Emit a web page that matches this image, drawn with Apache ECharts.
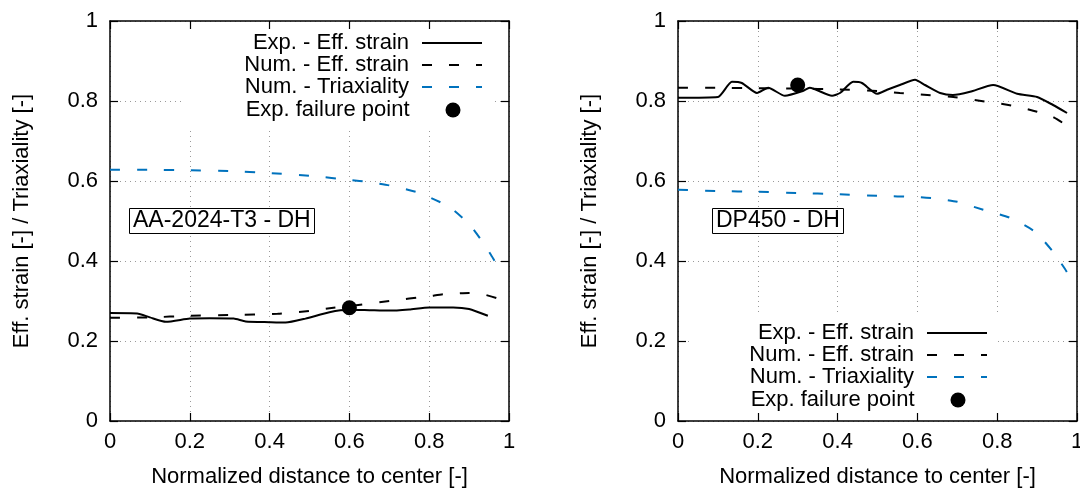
<!DOCTYPE html>
<html>
<head>
<meta charset="utf-8">
<script src="https://cdn.jsdelivr.net/npm/echarts@6/dist/echarts.min.js"></script>
<style>
html,body{margin:0;padding:0;background:#fff;overflow:hidden;}
#chart{width:1080px;height:488px;}
</style>
</head>
<body>
<div id="chart"></div>
<script>
// ---------- data ----------
const xTickValues = [0, 0.2, 0.4, 0.6, 0.8, 1];
const yTickValues = [0, 0.2, 0.4, 0.6, 0.8, 1];
const panelTitles = ['AA-2024-T3 - DH', 'DP450 - DH'];
const seriesNames = ['Exp. - Eff. strain', 'Num. - Eff. strain', 'Num. - Triaxiality', 'Exp. failure point'];
const xAxisTitle = 'Normalized distance to center [-]';
const yAxisTitle = 'Eff. strain [-] / Triaxiality [-]';

// Left panel: AA-2024-T3
const aaExpStrain = [[0,0.270],[0.068,0.269],[0.10,0.259],[0.14,0.248],[0.20,0.256],[0.25,0.257],[0.31,0.256],[0.34,0.249],[0.40,0.247],[0.44,0.246],[0.49,0.256],[0.55,0.272],[0.60,0.278],[0.65,0.277],[0.70,0.276],[0.75,0.279],[0.80,0.284],[0.86,0.284],[0.90,0.280],[0.947,0.263]];
const aaNumStrain = [[0,0.258],[0.10,0.259],[0.20,0.263],[0.30,0.265],[0.42,0.268],[0.50,0.275],[0.56,0.283],[0.60,0.287],[0.70,0.300],[0.80,0.312],[0.835,0.317],[0.90,0.320],[0.93,0.318],[0.97,0.307],[0.985,0.300]];
const aaNumTriax = [[0,0.628],[0.10,0.628],[0.20,0.627],[0.30,0.625],[0.40,0.620],[0.50,0.613],[0.60,0.603],[0.65,0.597],[0.70,0.589],[0.77,0.572],[0.832,0.545],[0.86,0.528],[0.89,0.502],[0.91,0.480],[0.932,0.450],[0.955,0.415],[0.977,0.378]];
const aaFailure = [[0.60,0.283]];

// Right panel: DP450
const dpExpStrain = [[0,0.808],[0.10,0.810],[0.135,0.848],[0.16,0.845],[0.198,0.820],[0.226,0.833],[0.268,0.813],[0.313,0.825],[0.33,0.833],[0.386,0.813],[0.406,0.820],[0.439,0.848],[0.461,0.845],[0.499,0.818],[0.524,0.828],[0.556,0.840],[0.594,0.853],[0.619,0.840],[0.657,0.820],[0.689,0.815],[0.732,0.823],[0.79,0.840],[0.85,0.818],[0.90,0.810],[0.94,0.790],[0.975,0.770]];
const dpNumStrain = [[0,0.833],[0.10,0.833],[0.20,0.832],[0.30,0.831],[0.40,0.829],[0.50,0.825],[0.556,0.820],[0.60,0.817],[0.69,0.810],[0.775,0.798],[0.84,0.788],[0.90,0.773],[0.94,0.760],[0.965,0.745],[0.995,0.732]];
const dpNumTriax = [[0,0.578],[0.10,0.575],[0.20,0.573],[0.30,0.570],[0.40,0.567],[0.50,0.563],[0.60,0.560],[0.64,0.557],[0.70,0.548],[0.765,0.528],[0.832,0.508],[0.895,0.473],[0.94,0.423],[0.97,0.380],[0.985,0.355],[1.0,0.340]];
const dpFailure = [[0.30,0.840]];

// ---------- styling ----------
const FONT = "'Liberation Sans', Arial, Helvetica, sans-serif";
const BLUE = '#0072bd';
const DASH = [10, 17];
const grids = [
  {left: 110, top: 21, width: 399, height: 400, containLabel: false, outerBoundsMode: 'none'},
  {left: 678, top: 21, width: 399, height: 400, containLabel: false, outerBoundsMode: 'none'}
];

const xAxes = [], yAxes = [];
grids.forEach((g, gi) => {
  xAxes.push({
    type: 'value', gridIndex: gi, min: 0, max: 1, interval: 0.2, position: 'bottom',
    name: xAxisTitle, nameLocation: 'middle', nameGap: 45,
    nameTextStyle: {fontFamily: FONT, fontSize: 22, color: '#000'},
    axisLine: {show: true, onZero: false, lineStyle: {color: '#000', width: 1.5}},
    axisTick: {show: true, inside: true, length: 8, lineStyle: {color: '#000', width: 1.2}},
    axisLabel: {show: true, margin: 10, fontFamily: FONT, fontSize: 22, color: '#000'},
    splitLine: {show: true, lineStyle: {color: '#9a9a9a', width: 1, type: [1, 4]}}
  });
  xAxes.push({
    type: 'value', gridIndex: gi, min: 0, max: 1, interval: 0.2, position: 'top',
    axisLine: {show: true, onZero: false, lineStyle: {color: '#000', width: 1.5}},
    axisTick: {show: true, inside: true, length: 8, lineStyle: {color: '#000', width: 1.2}},
    axisLabel: {show: false}, splitLine: {show: false}
  });
  yAxes.push({
    type: 'value', gridIndex: gi, min: 0, max: 1, interval: 0.2, position: 'left',
    name: yAxisTitle, nameLocation: 'middle', nameGap: 77, nameRotate: 90,
    nameTextStyle: {fontFamily: FONT, fontSize: 22, color: '#000'},
    axisLine: {show: true, onZero: false, lineStyle: {color: '#000', width: 1.5}},
    axisTick: {show: true, inside: true, length: 8, lineStyle: {color: '#000', width: 1.2}},
    axisLabel: {show: true, margin: 12, fontFamily: FONT, fontSize: 22, color: '#000'},
    splitLine: {show: true, lineStyle: {color: '#9a9a9a', width: 1, type: [1, 4]}}
  });
  yAxes.push({
    type: 'value', gridIndex: gi, min: 0, max: 1, interval: 0.2, position: 'right',
    axisLine: {show: true, onZero: false, lineStyle: {color: '#000', width: 1.5}},
    axisTick: {show: true, inside: true, length: 8, lineStyle: {color: '#000', width: 1.2}},
    axisLabel: {show: false}, splitLine: {show: false}
  });
});

function lineSeries(name, data, gi, color, dash) {
  return {
    type: 'line', name: name, data: data,
    xAxisIndex: gi * 2, yAxisIndex: gi * 2,
    symbol: 'none', showSymbol: false, smooth: 0.2, z: 3,
    lineStyle: {color: color, width: 2, type: dash || 'solid'},
    itemStyle: {color: color},
    emphasis: {disabled: true}, animation: false
  };
}
function dotSeries(name, data, gi) {
  return {
    type: 'scatter', name: name, data: data,
    xAxisIndex: gi * 2, yAxisIndex: gi * 2,
    symbol: 'circle', symbolSize: 15, z: 4,
    itemStyle: {color: '#000', opacity: 1}, emphasis: {disabled: true}, animation: false
  };
}

const series = [
  lineSeries(seriesNames[0], aaExpStrain, 0, '#000'),
  lineSeries(seriesNames[1], aaNumStrain, 0, '#000', DASH),
  lineSeries(seriesNames[2], aaNumTriax, 0, BLUE, DASH),
  dotSeries(seriesNames[3], aaFailure, 0),
  lineSeries(seriesNames[0], dpExpStrain, 1, '#000'),
  lineSeries(seriesNames[1], dpNumStrain, 1, '#000', DASH),
  lineSeries(seriesNames[2], dpNumTriax, 1, BLUE, DASH),
  dotSeries(seriesNames[3], dpFailure, 1)
];

// one legend per entry so the keys line up on the right like the original
const legendSpots = [
  {lineRight: 483, dotCenter: 453, centers: [43, 65, 87, 110]},
  {lineRight: 988, dotCenter: 958, centers: [333, 355, 377, 400]}
];
const legends = [];
legendSpots.forEach(spot => {
  seriesNames.forEach((nm, i) => {
    const isDot = i === 3;
    legends.push({
      data: [nm], orient: 'vertical', align: 'right',
      right: isDot ? 1080 - (spot.dotCenter + 7.5) : 1080 - spot.lineRight,
      top: spot.centers[i] - 11,
      padding: 0, itemWidth: isDot ? 15 : 60, itemHeight: isDot ? 15 : 14, itemGap: 0,
      selectedMode: false, z: 5,
      itemStyle: isDot ? {color: '#000', opacity: 1} : {opacity: 0},
      textStyle: {fontFamily: FONT, fontSize: 22, color: '#000', lineHeight: 22, padding: [0, isDot ? 31 : 8, 0, 0]}
    });
  });
});

const titles = [
  {text: panelTitles[0], left: 129, top: 208},
  {text: panelTitles[1], left: 712, top: 208}
].map(t => Object.assign(t, {
  borderColor: '#000', borderWidth: 1, padding: [1, 4], backgroundColor: '#fff',
  textStyle: {fontFamily: FONT, fontSize: 23, fontWeight: 'normal', color: '#000', lineHeight: 24}
}));

const chart = echarts.init(document.getElementById('chart'), null, {renderer: 'canvas'});
chart.setOption({
  animation: false,
  backgroundColor: '#fff',
  grid: grids,
  xAxis: xAxes,
  yAxis: yAxes,
  title: titles,
  legend: legends,
  graphic: [
    {type: 'rect', z: 1, silent: true, shape: {x: 182, y: 30, width: 313, height: 100}, style: {fill: '#fff'}},
    {type: 'rect', z: 1, silent: true, shape: {x: 690, y: 316, width: 308, height: 96}, style: {fill: '#fff'}}
  ],
  series: series
});
</script>
</body>
</html>
